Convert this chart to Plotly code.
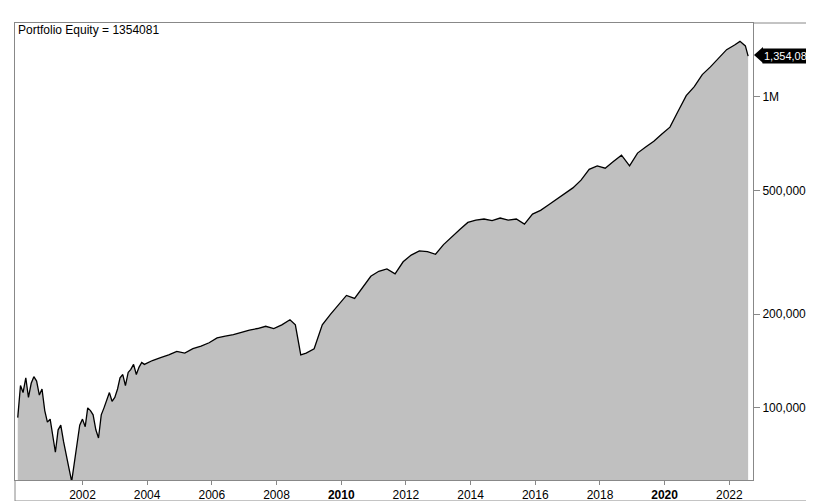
import plotly.graph_objects as go

# equity curve (dates, value in thousands)
dates = ["2000-01", "2000-02", "2000-03", "2000-04", "2000-05", "2000-06", "2000-07", "2000-08",
         "2000-09", "2000-10", "2000-11", "2000-12", "2001-01", "2001-02", "2001-03", "2001-04",
         "2001-05", "2001-06", "2001-07", "2001-08", "2001-09", "2001-10", "2001-11", "2001-12",
         "2002-01", "2002-02", "2002-03", "2002-04", "2002-05", "2002-06", "2002-07", "2002-08",
         "2002-09", "2002-10", "2002-11", "2002-12", "2003-01", "2003-02", "2003-03", "2003-04",
         "2003-05", "2003-06", "2003-07", "2003-08", "2003-09", "2003-10", "2003-11", "2003-12",
         "2004-03", "2004-06", "2004-09", "2004-12", "2005-03", "2005-06", "2005-09", "2005-12",
         "2006-03", "2006-06", "2006-09", "2006-12", "2007-03", "2007-06", "2007-09", "2007-12",
         "2008-03", "2008-06", "2008-08", "2008-10", "2008-12", "2009-03", "2009-06", "2009-09",
         "2009-12", "2010-03", "2010-06", "2010-09", "2010-12", "2011-03", "2011-06", "2011-09",
         "2011-12", "2012-03", "2012-06", "2012-09", "2012-12", "2013-03", "2013-06", "2013-09",
         "2013-12", "2014-03", "2014-06", "2014-09", "2014-12", "2015-03", "2015-06", "2015-09",
         "2015-12", "2016-03", "2016-06", "2016-09", "2016-12", "2017-03", "2017-06", "2017-09",
         "2017-12", "2018-03", "2018-06", "2018-09", "2018-12", "2019-03", "2019-06", "2019-09",
         "2019-12", "2020-03", "2020-06", "2020-09", "2020-12", "2021-03", "2021-06", "2021-09",
         "2021-12", "2022-03", "2022-05", "2022-07", "2022-08"]
equity_k = [93, 118, 112, 125, 108, 120, 126, 122, 110, 115, 98, 90, 92, 80, 72, 85,
            88, 78, 70, 64, 58, 66, 76, 88, 92, 87, 100, 98, 95, 85, 80, 95,
            100, 105, 112, 105, 108, 115, 125, 128, 118, 130, 133, 138, 128, 135, 140, 138,
            142, 145, 148, 152, 150, 155, 158, 162, 168, 170, 172, 175, 178, 180, 183, 180,
            185, 192, 185, 148, 150, 155, 185, 200, 215, 230, 225, 245, 265, 275, 280, 270,
            295, 310, 320, 318, 312, 335, 355, 375, 395, 402, 405, 400, 408, 402, 405, 390,
            420, 432, 450, 470, 490, 510, 540, 585, 600, 590, 620, 650, 600, 660, 690, 720,
            760, 800, 900, 1010, 1080, 1180, 1250, 1330, 1420, 1470, 1510, 1460, 1354.081]
equity = [v * 1000 for v in equity_k]

years = list(range(2002, 2024, 2))
year_labels = ["<b>%d</b>" % y if y % 10 == 0 else str(y) for y in years]
y_ticks = [100000, 200000, 500000, 1000000]
y_labels = ["100,000", "200,000", "500,000", "1M"]

fig = go.Figure()
fig.add_trace(go.Scatter(x=[dates[0], dates[-1]], y=[1000, 1000], mode="lines",
                         line=dict(width=0), hoverinfo="skip", showlegend=False))
fig.add_trace(go.Scatter(x=dates, y=equity, mode="lines", line=dict(color="black", width=1.3),
                         fill="tonexty", fillcolor="#c0c0c0", showlegend=False))

fig.update_layout(
    width=814, height=501,
    margin=dict(l=7, r=69, t=15, b=29),
    paper_bgcolor="white", plot_bgcolor="white",
    font=dict(family="Liberation Sans, Arial", size=12, color="black"),
    xaxis=dict(range=["1999-12-01", "2022-09-25"], tickvals=["%d-01-01" % y for y in years],
               ticktext=year_labels, showgrid=False, ticks="outside", ticklen=4,
               tickcolor="#888", showline=True, linecolor="#888", mirror=True,
               automargin=False),
    yaxis=dict(type="log", side="right", range=[4.768, 6.238], tickvals=y_ticks,
               ticktext=y_labels, showgrid=False, ticks="outside", ticklen=6,
               tickcolor="#888", showline=True, linecolor="#888", mirror=True,
               automargin=False),
)

W, H = 738.0, 457.0
def px(x):
    return (x - 7) / W
def py(y):
    return (472 - y) / H

line = dict(color="#888", width=1)
fig.add_shape(type="line", xref="paper", yref="paper", x0=px(745), x1=px(814), y0=py(15), y1=py(15), line=line)
fig.add_shape(type="line", xref="paper", yref="paper", x0=px(7), x1=px(814), y0=py(493), y1=py(493), line=line)
fig.add_shape(type="line", xref="paper", yref="paper", x0=px(7), x1=px(7), y0=py(472), y1=py(493), line=line)

fig.add_annotation(xref="paper", yref="paper", x=px(8), y=py(22), xanchor="left", yanchor="middle",
                   text="Portfolio Equity = 1354081", showarrow=False, font=dict(size=12))
fig.add_annotation(xref="paper", yref="y", x=px(754), y=6.1316, xanchor="left", yanchor="middle",
                   text="1,354,081", showarrow=False, bgcolor="black", borderpad=1,
                   font=dict(size=11, color="white"))
fig.add_shape(type="path", xref="paper", yref="paper",
              path="M %f %f L %f %f L %f %f Z" % (px(746), py(47), px(755), py(39), px(755), py(55)),
              fillcolor="black", line=dict(width=0))

fig.write_html("out.html")
